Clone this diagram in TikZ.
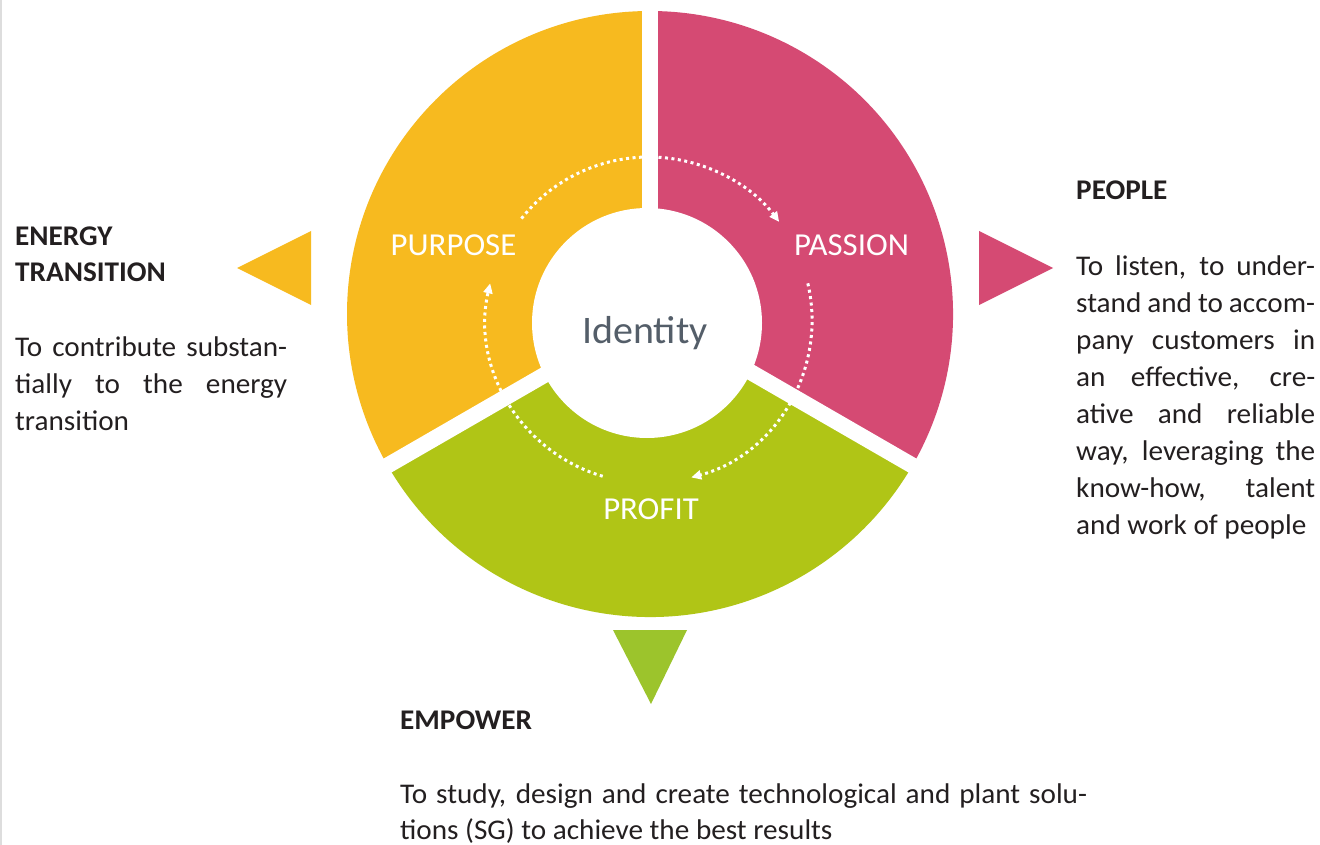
\documentclass[tikz,border=0pt]{standalone}
\usepackage{fontspec}
\setmainfont{Carlito}[FakeStretch=1.025]
\usetikzlibrary{arrows.meta}
\definecolor{cyel}{HTML}{F7BA1F}
\definecolor{cpink}{HTML}{D54A73}
\definecolor{cgreen}{HTML}{B0C516}
\definecolor{ctri}{HTML}{9CC42C}
\definecolor{ctext}{HTML}{231F20}
\definecolor{cgrey}{HTML}{545E69}
\definecolor{cedge}{HTML}{DDDDDD}
\newcommand{\jline}[2]{\makebox[#1][s]{#2}}
\begin{document}
\begin{tikzpicture}[x=1pt,y=1pt,
  lbl/.style={text=white, font=\fontsize{32pt}{36pt}\selectfont, anchor=base, inner sep=0pt},
  head/.style={text=ctext, font=\bfseries\fontsize{28.5pt}{34pt}\selectfont, anchor=base west, inner sep=0pt},
  body/.style={text=ctext, font=\fontsize{28.5pt}{36pt}\selectfont, anchor=base west, inner sep=0pt},
  dots/.style={white, line width=3pt, dash pattern=on 3pt off 3.5pt, -{Triangle[length=10pt,width=9pt]}},
  gap/.style={white, line width=16pt}]
\useasboundingbox (0,0) rectangle (1320,-845);
\fill[white] (0,0) rectangle (1320,-845);
\draw[cedge, line width=1.5pt] (1,0) -- (1,-845);

% ring
\coordinate (O) at (650,-314);
\fill[cyel] (O) -- ([shift={(90:303pt)}]O) arc[start angle=90, end angle=210, radius=303pt] -- cycle;
\fill[cpink] (O) -- ([shift={(-30:303pt)}]O) arc[start angle=-30, end angle=90, radius=303pt] -- cycle;
\fill[cgreen] (O) -- ([shift={(210:303pt)}]O) arc[start angle=210, end angle=330, radius=303pt] -- cycle;
\draw[gap] (O) -- ++(90:330pt);
\draw[gap] (O) -- ++(210:330pt);
\draw[gap] (O) -- ++(330:330pt);
\node[circle, fill=white, minimum size=230pt, inner sep=0pt] (core) at (647,-323) {};
\node[text=cgrey, font=\fontsize{39pt}{44pt}\selectfont, anchor=base, inner sep=0pt] (idt) at (645,-343) {Identity};

% labels
\node[lbl] (purpose) at (453.5,-255) {PURPOSE};
\node[lbl] (passion) at (851.5,-255) {PASSION};
\node[lbl] (profit) at (651,-519) {PROFIT};

% dotted arrows
\coordinate (C) at (649,-320);
\coordinate (a1) at ([shift={(141.5:163pt)}]C);
\coordinate (a2) at ([shift={(13:163pt)}]C);
\coordinate (a3) at ([shift={(253.5:163pt)}]C);
\draw[dots] (a1) arc[start angle=141.5, end angle=37, radius=163pt];
\draw[dots] (a2) arc[start angle=13, end angle=-75, radius=163pt];
\draw[dots] (a3) arc[start angle=253.5, end angle=167, radius=163pt];

% pointers
\fill[cyel] (311,-231) -- (311,-305) -- (237,-268) -- cycle;
\fill[cpink] (979,-231) -- (979,-305) -- (1053,-268) -- cycle;
\fill[ctri] (613,-630) -- (687,-630) -- (651,-704) -- cycle;

% left text
\node[head] (h1a) at (15,-245.7) {ENERGY};
\node[head] (h1b) at (15,-281.7) {TRANSITION};
\node[body] (l1) at (15,-356.7) {\jline{272pt}{To contribute substan-}};
\node[body] (l2) at (15,-393.3) {\jline{272pt}{tially to the energy}};
\node[body] (l3) at (15,-430) {transition};

% right text
\node[head] (h2) at (1076,-200) {PEOPLE};
\node[body] (r1) at (1076,-275) {\jline{239pt}{To listen, to under-}};
\node[body] (r2) at (1076,-312) {\jline{239pt}{stand and to accom-}};
\node[body] (r3) at (1076,-349) {\jline{239pt}{pany customers in}};
\node[body] (r4) at (1076,-386) {\jline{239pt}{an effective, cre-}};
\node[body] (r5) at (1076,-423) {\jline{239pt}{ative and reliable}};
\node[body] (r6) at (1076,-460) {\jline{239pt}{way, leveraging the}};
\node[body] (r7) at (1076,-497) {\jline{239pt}{know-how, talent}};
\node[body] (r8) at (1076,-534) {and work of people};

% bottom text
\node[head] (h3) at (400,-729.3) {EMPOWER};
\node[body] (b1) at (400,-803.3) {\jline{687pt}{To study, design and create technological and plant solu-}};
\node[body] (b2) at (400,-839.5) {tions (SG) to achieve the best results};
\end{tikzpicture}
\end{document}
